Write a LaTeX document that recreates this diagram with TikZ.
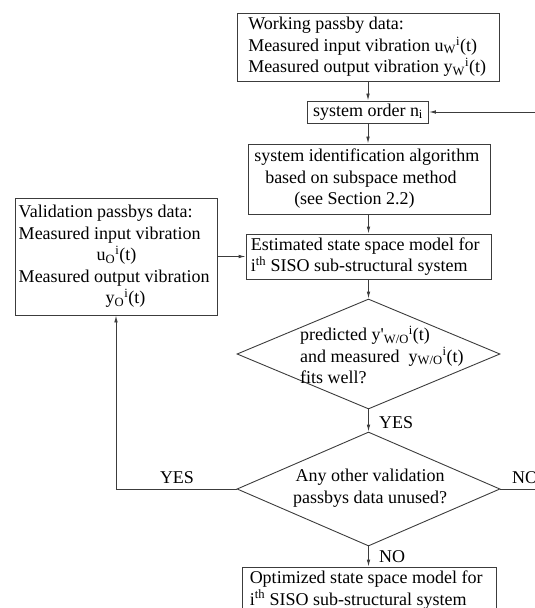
\documentclass[tikz,border=0pt]{standalone}
\usepackage{fontspec}
\setmainfont{Liberation Serif}
\usetikzlibrary{arrows.meta,shapes.geometric}
\definecolor{lc}{RGB}{60,60,60}
\tikzset{
  boxn/.style={draw=lc, line width=0.9bp, inner sep=0pt, rectangle},
  dia/.style={draw=lc, line width=0.9bp, inner sep=0pt, diamond},
  txt/.style={inner sep=0pt, align=left, anchor=west},
  lbl/.style={inner sep=0pt, anchor=west},
  arr/.style={draw=lc, line width=0.9bp, -{Latex[length=7bp,width=3.6bp]}},
  ln/.style={draw=lc, line width=0.9bp}
}
\begin{document}
\begin{tikzpicture}[x=1bp,y=-1bp,font=\fontsize{18bp}{21.5bp}\selectfont]
\useasboundingbox (0,0) rectangle (535,608);
\clip (0,0) rectangle (535,608);
% boxes
\node[boxn, minimum width=262bp, minimum height=68bp] (tb) at (368.5,47) {};
\node[txt] (tbt) at ([xshift=11bp]tb.west) {Working passby data:\\
Measured input vibration u\textsubscript{W}\textsuperscript{i}(t)\\
Measured output vibration y\textsubscript{W}\textsuperscript{i}(t)};
\node[boxn, minimum width=121bp, minimum height=22bp] (so) at (368,112) {system order n\textsubscript{i}};
\node[boxn, minimum width=242bp, minimum height=70bp] (sid) at (369.5,179) {};
\node[txt] (sidt) at ([xshift=6bp]sid.west) {system identification algorithm\\
\hspace*{11bp}based on subspace method\\
\hspace*{40bp}(see Section 2.2)};
\node[boxn, minimum width=202bp, minimum height=117bp] (val) at (116,256.5) {};
\node[txt] (valt) at ([xshift=4bp]val.west) {Validation passbys data:\\
Measured input vibration\\
\hspace*{78bp}u\textsubscript{O}\textsuperscript{i}(t)\\
Measured output vibration\\
\hspace*{87bp}y\textsubscript{O}\textsuperscript{i}(t)};
\node[boxn, minimum width=245bp, minimum height=45bp] (est) at (368.5,256.5) {};
\node[txt] (estt) at ([xshift=5bp]est.west) {Estimated state space model for\\
i\textsuperscript{th} SISO sub-structural system};
\node[dia, minimum width=263bp, minimum height=110bp] (d1) at (368.5,354) {};
\node[txt] (d1t) at (300,355) {predicted y\textquotesingle\textsubscript{W/O}\textsuperscript{i}(t)\\
and measured~ y\textsubscript{W/O}\textsuperscript{i}(t)\\
fits well?};
\node[dia, minimum width=263bp, minimum height=114bp] (d2) at (368.5,489) {};
\node[inner sep=0pt, align=center] (d2t) at (370,488) {Any other validation\\passbys data unused?};
\node[boxn, minimum width=254bp, minimum height=46bp] (bot) at (369,590) {};
\node[txt] (bott) at ([xshift=8bp]bot.west) {Optimized state space model for\\
i\textsuperscript{th} SISO sub-structural system};
% connectors
\coordinate (rt) at (545,112);
\draw[arr] (so.north |- tb.south) -- (so.north);
\draw[arr] (so.south) -- (so.south |- sid.north);
\draw[arr] (d1.north |- sid.south) -- (d1.north |- est.north);
\draw[arr] (val.east) -- (est.west);
\draw[arr] (d1.north |- est.south) -- (d1.north);
\draw[arr] (d1.south) -- (d2.north);
\draw[arr] (d2.south) -- (d2.south |- bot.north);
\draw[arr] (d2.west) -| (val.south);
\draw[arr] (d2.east) -| (rt) -- (so.east);
% labels
\node[lbl] (yes1) at (379,423) {YES};
\node[inner sep=0pt] (yes2) at (177,478) {YES};
\node[lbl] (no1) at (512,478) {NO};
\node[lbl] (no2) at (379,557) {NO};
\end{tikzpicture}
\end{document}
